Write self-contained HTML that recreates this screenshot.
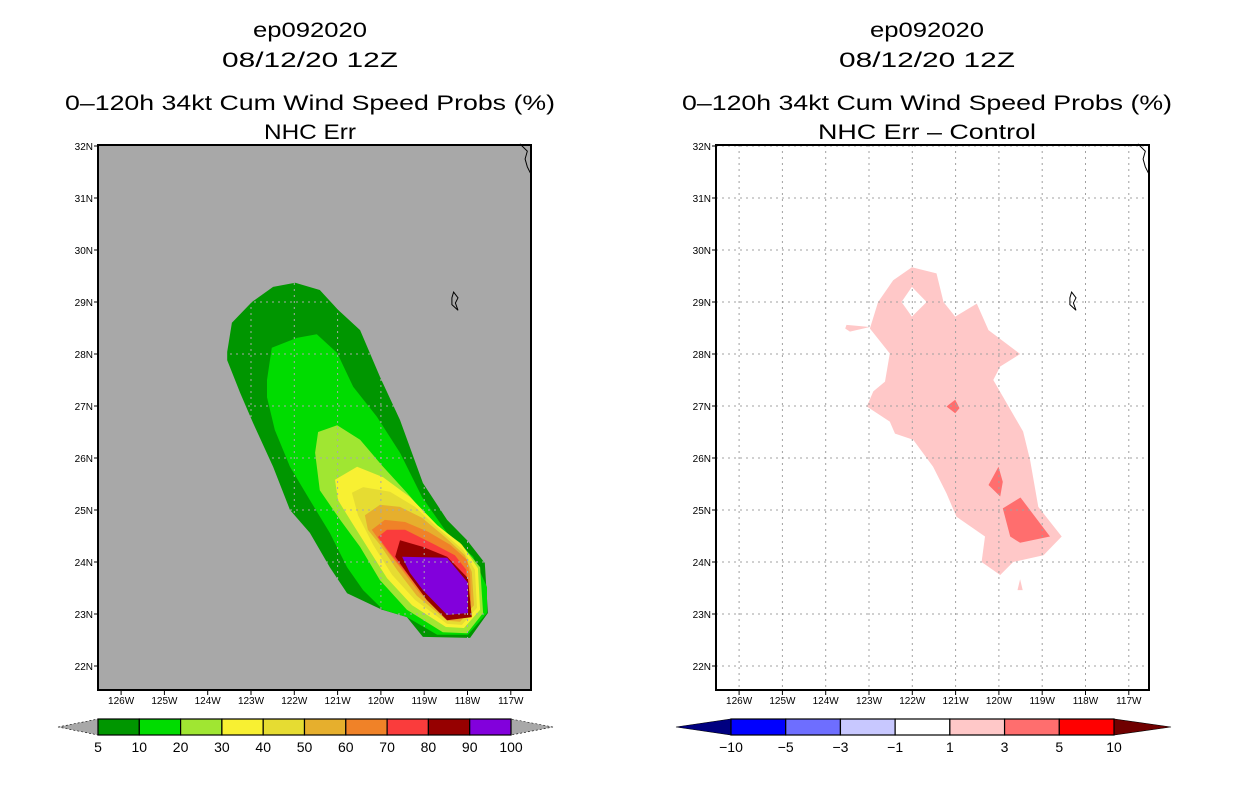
<!DOCTYPE html>
<html><head><meta charset="utf-8">
<style>
html,body{margin:0;padding:0;background:#fff;}
svg{display:block;font-family:"Liberation Sans",sans-serif;}
</style></head>
<body>
<svg id="chart" width="1236" height="800" viewBox="0 0 1236 800" xmlns="http://www.w3.org/2000/svg">
<defs>
<clipPath id="clipL"><rect x="98" y="145" width="433" height="545"/></clipPath>
<clipPath id="clipR"><rect x="716" y="145" width="433" height="545"/></clipPath>
</defs>
<g id="left"></g>
<g id="right"></g>
</svg>
<script>
// ---- data (longitudes in degrees West, latitudes in degrees North) ----
const lonTicks = [126,125,124,123,122,121,120,119,118,117];
const latTicks = [32,31,30,29,28,27,26,25,24,23,22];
const probLevels = [5,10,20,30,40,50,60,70,80,90,100];
const probColors = ["#009600","#00dc00","#a0e632","#f8f032","#e6dc32","#e6af2d","#f08228","#fa3c3c","#960000","#8200dc"];
const diffLevels = [-10,-5,-3,-1,1,3,5,10];
const diffColors = ["#0000ff","#6e6eff","#c8c8ff","#ffffff","#ffc8c8","#ff6e6e","#ff0000"];

const p5  = [[123.55,28.04],[123.44,28.60],[122.98,29.0],[122.49,29.29],[121.98,29.37],[121.41,29.23],[120.99,28.85],[120.48,28.46],[120.02,27.56],[119.56,26.73],[119.03,25.52],[118.47,24.81],[118.01,24.42],[117.60,23.98],[117.53,23.02],[117.94,22.54],[119.03,22.56],[119.40,22.94],[119.97,23.08],[120.78,23.40],[121.18,23.90],[121.64,24.56],[122.10,25.0],[122.49,25.83],[122.95,26.67],[123.25,27.25],[123.55,27.88]];
const p10 = [[122.63,27.5],[122.52,28.12],[121.94,28.31],[121.48,28.38],[121.01,28.02],[120.64,27.37],[120.09,26.79],[119.56,26.10],[119.05,25.25],[118.47,24.56],[117.87,24.10],[117.55,23.52],[117.55,23.02],[117.99,22.60],[118.70,22.60],[119.40,22.94],[119.95,23.08],[120.41,23.46],[120.78,23.90],[121.18,24.56],[121.64,25.19],[122.10,25.83],[122.45,26.54],[122.63,27.17]];
const p20 = [[121.52,26.10],[121.45,26.50],[121.01,26.63],[120.48,26.35],[119.95,25.83],[119.40,25.33],[118.80,24.75],[118.17,24.37],[117.71,23.90],[117.64,23.02],[118.01,22.63],[118.57,22.65],[119.40,23.08],[120.02,23.65],[120.48,24.29],[120.94,24.81],[121.41,25.38]];
const p30 = [[121.06,25.58],[120.55,25.83],[119.95,25.63],[119.33,25.25],[118.70,24.71],[118.13,24.33],[117.76,23.88],[117.71,23.08],[118.08,22.73],[118.50,22.75],[119.28,23.17],[119.86,23.69],[120.30,24.27],[120.71,24.81],[120.99,25.19]];
const p40 = [[120.67,25.33],[120.41,25.44],[119.79,25.35],[119.21,25.06],[118.64,24.62],[118.10,24.23],[117.83,23.85],[117.78,23.12],[118.13,22.79],[118.47,22.81],[119.21,23.27],[119.74,23.75],[120.18,24.33],[120.53,24.90]];
const p50 = [[120.37,24.90],[120.02,25.10],[119.56,25.06],[119.05,24.85],[118.52,24.48],[118.06,24.13],[117.90,23.81],[117.85,23.17],[118.17,22.85],[118.47,22.87],[119.17,23.35],[119.63,23.85],[120.02,24.33],[120.30,24.62]];
const p60 = [[120.21,24.62],[119.91,24.81],[119.44,24.77],[118.91,24.58],[118.40,24.33],[118.01,24.04],[117.94,23.75],[117.92,23.21],[118.22,22.90],[118.47,22.92],[119.10,23.40],[119.56,23.90],[119.91,24.27]];
const p70 = [[120.07,24.48],[119.86,24.62],[119.44,24.62],[118.75,24.33],[118.29,24.13],[118.03,23.85],[117.99,23.27],[118.29,22.96],[118.50,22.98],[119.10,23.46],[119.56,23.94],[119.79,24.17]];
const p80 = [[119.56,24.42],[119.03,24.29],[118.47,24.10],[117.99,23.69],[117.90,22.94],[118.47,22.88],[118.94,23.27],[119.40,23.79],[119.67,24.10]];
const p90 = [[119.51,24.10],[118.47,24.08],[117.99,23.60],[117.99,23.02],[118.47,22.98],[119.03,23.46],[119.33,23.79]];

const d1main = [[122.01,29.67],[121.44,29.55],[121.28,29.0],[121.01,28.72],[120.51,28.97],[120.24,28.46],[119.51,28.0],[119.97,27.76],[120.13,27.5],[119.44,26.51],[119.28,25.96],[119.09,25.06],[118.55,24.49],[118.97,24.13],[119.67,24.0],[119.97,23.75],[120.40,24.0],[120.32,24.49],[120.98,24.87],[121.21,25.32],[121.52,25.83],[121.98,26.35],[122.40,26.47],[122.52,26.70],[123.05,26.99],[122.90,27.28],[122.63,27.47],[122.52,28.01],[122.98,28.49],[122.79,29.0],[122.44,29.42]];
const d1hole = [[122.01,29.29],[121.67,29.0],[122.01,28.72],[122.25,29.0]];
const d1spur = [[123.55,28.49],[123.52,28.56],[122.98,28.52],[123.44,28.43]];
const d1dot  = [[119.51,23.67],[119.45,23.46],[119.57,23.46]];
const d3a = [[121.21,26.99],[121.01,27.12],[120.91,26.96],[121.01,26.86]];
const d3b = [[120.01,25.83],[119.91,25.54],[119.97,25.26],[120.24,25.48]];
const d3c = [[119.91,25.03],[119.50,25.24],[118.82,24.49],[119.51,24.37],[119.74,24.49]];

const coastMain = [[116.79,32.04],[116.62,31.90],[116.67,31.75],[116.62,31.60],[116.53,31.45]];
const island = [[118.32,29.19],[118.22,29.08],[118.28,28.98],[118.22,28.84],[118.36,28.95],[118.36,29.08]];

// ---- axis functions ----
function sx(lonW, off){ return 251 + (123 - lonW) * 43.3 + off; }
function sy(lat){ return 302 + (29 - lat) * 52; }
const NS = "http://www.w3.org/2000/svg";
function mk(tag, attrs, parent){ const e=document.createElementNS(NS,tag); for(const k in attrs) e.setAttribute(k, attrs[k]); parent.appendChild(e); return e; }
function pts(arr, off){ return arr.map(p => sx(p[0],off).toFixed(1)+","+sy(p[1]).toFixed(1)).join(" "); }
function pathD(arr, off){ return "M"+arr.map(p => sx(p[0],off).toFixed(1)+","+sy(p[1]).toFixed(1)).join("L")+"Z"; }

function titles(g, cx, sub, subW){
  const lines = [["ep092020",37,114,"title-storm-id"],["08/12/20 12Z",67,176,"title-date"],["0\u2013120h 34kt Cum Wind Speed Probs (%)",110,490,"title-field"],[sub,139,subW,"title-subtitle"]];
  lines.forEach(l => { const t = mk("text",{x:cx,y:l[1],"text-anchor":"middle","font-size":21,fill:"#000",textLength:l[2],lengthAdjust:"spacingAndGlyphs"},g); t.textContent=l[0];
    
     });
}

function axes(g, off, gridCol){
  const X0=98+off, X1=531+off;
  lonTicks.forEach(lon => {
    const x = sx(lon,off);
    const gl = mk("line",{x1:x,y1:145,x2:x,y2:690,stroke:gridCol,"stroke-width":1,"stroke-dasharray":"2,4"},g);
    
    
    const tk = mk("line",{x1:x,y1:690,x2:x,y2:695,stroke:"#000"},g);
    
    
    const t = mk("text",{x:x,y:704,"text-anchor":"middle","font-size":10,fill:"#000"},g);
    t.textContent = lon+"W";
    
    
  });
  latTicks.forEach(lat => {
    const y = sy(lat);
    const gl = mk("line",{x1:X0,y1:y,x2:X1,y2:y,stroke:gridCol,"stroke-width":1,"stroke-dasharray":"2,4"},g);
    
    
    const tk = mk("line",{x1:X0-4,y1:y,x2:X0,y2:y,stroke:"#000"},g);
    
    
    const t = mk("text",{x:X0-5,y:y+4,"text-anchor":"end","font-size":10,fill:"#000"},g);
    t.textContent = lat+"N";
    
    
  });
}

function coast(g, off){
  const c = mk("polyline",{points:pts(coastMain,off),fill:"none",stroke:"#000","stroke-width":1},g);
  
  
  const i = mk("polygon",{points:pts(island,off),fill:"none",stroke:"#000","stroke-width":1},g);
  
  
}

function frame(g, off){
  const f = mk("rect",{x:98+off,y:145,width:433,height:545,fill:"none",stroke:"#000","stroke-width":2},g);
  
  
}

function colorbar(g, x0, x1, levels, colors, lcol, rcol, tipL, tipR){
  const y0=719, y1=735, n=colors.length, w=(x1-x0)/n;
  const lt = mk("polygon",{points:`${tipL},727 ${x0},${y0} ${x0},${y1}`,fill:lcol,stroke:"#000","stroke-width":0.6,"stroke-dasharray":lcol==="#a8a8a8"?"2,2":"none"},g);
  
  
  const rt = mk("polygon",{points:`${tipR},727 ${x1},${y0} ${x1},${y1}`,fill:rcol,stroke:"#000","stroke-width":0.6,"stroke-dasharray":rcol==="#a8a8a8"?"2,2":"none"},g);
  
  
  colors.forEach((c,i) => {
    const r = mk("rect",{x:x0+i*w,y:y0,width:w,height:y1-y0,fill:c,stroke:"#000","stroke-width":1.2},g);
    
    
  });
  levels.forEach((v,i) => {
    const t = mk("text",{x:x0+i*w,y:752,"text-anchor":"middle","font-size":14,fill:"#000"},g);
    t.textContent = v<0 ? "\u2212"+(-v) : String(v);
    
    
  });
}

// ---- left panel ----
const L = document.getElementById("left");
titles(L, 310, "NHC Err", 92);
const bgL = mk("rect",{x:98,y:145,width:433,height:545,fill:"#a8a8a8"},L);


const cl = mk("g",{"clip-path":"url(#clipL)"},L);


[p5,p10,p20,p30,p40,p50,p60,p70,p80,p90].forEach((poly,i) => {
  const e = mk("polygon",{points:pts(poly,0),fill:probColors[i]},cl);
  
  
});
axes(L,0,"#a8a8a8"); coast(L,0); frame(L,0);
colorbar(L, 98, 511, probLevels, probColors, "#a8a8a8", "#a8a8a8", 58, 553);

// ---- right panel ----
const R = document.getElementById("right");
titles(R, 927, "NHC Err \u2013 Control", 218);
const bgR = mk("rect",{x:716,y:145,width:433,height:545,fill:"#ffffff"},R);


const cr = mk("g",{"clip-path":"url(#clipR)"},R);


const m = mk("path",{d:pathD(d1main,618)+pathD(d1hole,618),fill:diffColors[4],"fill-rule":"evenodd"},cr);


[d1spur,d1dot].forEach(poly => { const e = mk("polygon",{points:pts(poly,618),fill:diffColors[4]},cr);
  
   });
[d3a,d3b,d3c].forEach(poly => { const e = mk("polygon",{points:pts(poly,618),fill:diffColors[5]},cr);
  
   });
axes(R,618,"#a0a0a0"); coast(R,618); frame(R,618);
colorbar(R, 731, 1114, diffLevels, diffColors, "#000080", "#700000", 676, 1171);
</script>
</body></html>
